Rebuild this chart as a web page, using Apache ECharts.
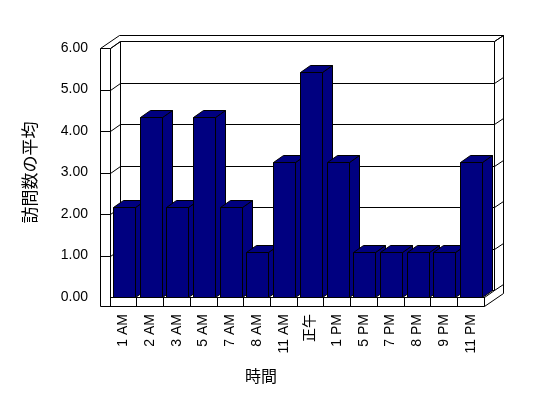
<!DOCTYPE html>
<html>
<head>
<meta charset="utf-8">
<style>
html, body { margin: 0; padding: 0; background: #fff; }
#chart { width: 548px; height: 398px; }
</style>
<script src="https://cdn.jsdelivr.net/npm/echarts@6/dist/echarts.min.js"></script>
</head>
<body>
<div id="chart"></div>
<script>
// 時間帯ごとの訪問数の平均
var hours = ['1 AM', '2 AM', '3 AM', '5 AM', '7 AM', '8 AM', '11 AM', '正午', '1 PM', '5 PM', '7 PM', '8 PM', '9 PM', '11 PM'];
var visits = [2.17, 4.33, 2.17, 4.33, 2.17, 1.08, 3.25, 5.42, 3.25, 1.08, 1.08, 1.08, 1.08, 3.25];
var yTicks = [0, 1, 2, 3, 4, 5, 6];

var chart = echarts.init(document.getElementById('chart'));

var DX = 10, DY = -7;   // 奥行き
var BX = 9, BY = -6;    // 背面の壁の厚み
var WALL = 10, FLOOR = 9;
var font = '"Liberation Sans", "Noto Sans CJK JP", sans-serif';
var line = { stroke: '#000', lineWidth: 1, fill: null };

function px(v) { return Math.round(v) + 0.5; }
function seg(x1, y1, x2, y2) {
  return { type: 'line', shape: { x1: px(x1), y1: px(y1), x2: px(x2), y2: px(y2) }, style: line };
}

// 壁と床
function renderWalls(params, api) {
  var cs = params.coordSys;
  var L = cs.x, T = cs.y, R = cs.x + cs.width, B = cs.y + cs.height;
  return {
    type: 'group',
    children: [
      { type: 'polygon', shape: { points: [
          [px(L - WALL), px(T)], [px(L - WALL + DX + BX), px(T + DY + BY)],
          [px(R + DX + BX), px(T + DY + BY)], [px(R + DX + BX), px(B + FLOOR + DY + BY)],
          [px(R), px(B + FLOOR)], [px(L - WALL), px(B + FLOOR)]
        ] }, style: { fill: '#fff', stroke: '#000', lineWidth: 1 } },
      seg(L, T, L, B),
      seg(L, T, L + DX, T + DY),
      seg(L + DX, T + DY, L + DX, B + DY),
      seg(R + DX, T + DY, R + DX, B + DY),
      seg(R + DX, T + DY, R + DX + BX, T + DY + BY),
      seg(L, B, R, B),
      seg(R, B, R, B + FLOOR),
      seg(R, B, R + DX, B + DY)
    ]
  };
}

// 目盛線 (背面・側面)
function renderGridLines(params, api) {
  var cs = params.coordSys;
  var L = cs.x, R = cs.x + cs.width;
  var v = api.value(1);
  var y = api.coord([0, v])[1];
  var kids = [
    seg(L + DX, y + DY, R + DX, y + DY),
    seg(R + DX, y + DY, R + DX + BX, y + DY + BY)
  ];
  if (v > 0) {
    kids.push(seg(L - WALL, y, L, y));
    kids.push(seg(L, y, L + DX, y + DY));
  }
  return { type: 'group', children: kids };
}

// 3D 棒
function renderBar(params, api) {
  var i = api.value(0), v = api.value(1);
  var top = api.coord([i, v]), base = api.coord([i, 0]);
  var w = api.size([1, 0])[0] * 0.82;
  var x0 = px(top[0] - w / 2 + 0.5), x1 = px(top[0] + w / 2 + 0.5);
  var y0 = px(top[1]), y1 = px(base[1]);
  var st = { fill: '#000080', stroke: '#000', lineWidth: 1 };
  return {
    type: 'group',
    children: [
      { type: 'polygon', shape: { points: [[x1, y0], [x1 + DX, y0 + DY], [x1 + DX, y1 + DY], [x1, y1]] }, style: st },
      { type: 'polygon', shape: { points: [[x0, y0], [x1, y0], [x1 + DX, y0 + DY], [x0 + DX, y0 + DY]] }, style: st },
      { type: 'rect', shape: { x: x0, y: y0, width: x1 - x0, height: y1 - y0 }, style: st }
    ]
  };
}

var option = {
  animation: false,
  grid: { left: 110, right: 64, top: 48, bottom: 101 },
  xAxis: {
    type: 'category',
    data: hours,
    z: 5,
    axisLine: { show: false },
    axisTick: { show: true, length: 9, lineStyle: { color: '#000', width: 1 } },
    axisLabel: { rotate: 90, margin: 17, color: '#000', fontSize: 14, fontFamily: font },
    name: '時間',
    nameLocation: 'middle',
    nameGap: 73,
    nameTextStyle: { color: '#000', fontSize: 16, fontFamily: font, padding: [0, 72, 0, 0] }
  },
  yAxis: {
    type: 'value',
    min: 0,
    max: 6,
    interval: 1,
    z: 5,
    axisLine: { show: false },
    axisTick: { show: false },
    splitLine: { show: false },
    axisLabel: {
      margin: 22, color: '#000', fontSize: 14, fontFamily: font,
      formatter: function (v) { return v.toFixed(2); }
    },
    name: '訪問数の平均',
    nameLocation: 'middle',
    nameGap: 70,
    nameTextStyle: { color: '#000', fontSize: 17, fontFamily: font }
  },
  series: [
    { type: 'custom', name: 'walls', z: 1, renderItem: renderWalls, data: [[0, 0]], silent: true },
    { type: 'custom', name: 'grid', z: 1, renderItem: renderGridLines,
      data: yTicks.map(function (v) { return [0, v]; }), silent: true },
    { type: 'custom', name: '訪問数の平均', z: 2, renderItem: renderBar,
      data: visits.map(function (v, i) { return [i, v]; }) }
  ]
};
chart.setOption(option);
</script>
</body>
</html>
